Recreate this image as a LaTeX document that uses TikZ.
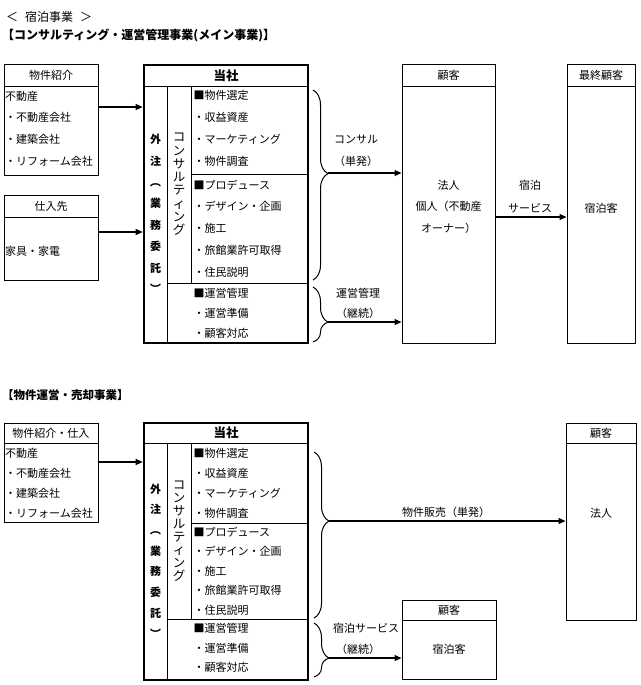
\documentclass[tikz,border=0pt]{standalone}
\usepackage{fontspec}
\usepackage{graphicx}
\setmainfont{Noto Sans CJK JP}
\usetikzlibrary{arrows.meta, decorations.pathreplacing}

\newcommand{\vopen}{\rotatebox[origin=c]{-90}{（}}
\newcommand{\vclose}{\rotatebox[origin=c]{-90}{）}}

\tikzset{
  every node/.style={font=\fontsize{11pt}{12pt}\selectfont},
  box/.style={draw=black, line width=1pt, inner sep=0pt},
  mainbox/.style={draw=black, line width=2.6pt, inner sep=0pt},
  headsep/.style={line width=1.8pt},
  itemtxt/.style={font=\fontsize{11pt}{#1}\selectfont, align=left, inner sep=0pt},
  outtxt/.style={align=center, font=\bfseries\fontsize{11pt}{#1}\selectfont},
  constxt/.style={align=center, font=\fontsize{12.5pt}{#1}\selectfont},
  arr/.style={line width=1.2pt, -{Triangle[length=7pt,width=6pt]}},
  brc/.style={line width=1pt, decorate, decoration={brace, amplitude=15pt, aspect=#1}},
}

\begin{document}
\begin{tikzpicture}[x=1pt, y=1pt]
\useasboundingbox (0,0) rectangle (640,-685);

% titles
\node[anchor=west, inner sep=0pt, font=\fontsize{12pt}{14pt}\selectfont] (titleA) at (6,-17) {＜\hspace{7pt}宿泊事業\hspace{7pt}＞};
\node[anchor=west, inner sep=0pt, font=\bfseries\fontsize{12pt}{14pt}\selectfont] (subA) at (2,-35) {【コンサルティング・運営管理事業(メイン事業)】};

%%% upper chart
\node[box, minimum width=94pt, minimum height=21pt] (srcHeadA) at (51,-75.5) {物件紹介};
\node[box, minimum width=94pt, minimum height=89pt] (srcBodyA) at (51,-130.5) {};
\draw[headsep] (srcHeadA.south west) -- (srcHeadA.south east);
\node[itemtxt=21.7pt, anchor=west] (srcTxtA) at (5,-128.5) {不動産\\・不動産会社\\・建築会社\\・リフォーム会社};

\node[box, minimum width=94pt, minimum height=22pt] (supHeadA) at (51,-206) {仕入先};
\node[box, minimum width=94pt, minimum height=63pt] (supBodyA) at (51,-248.5) {};
\draw[headsep] (supHeadA.south west) -- (supHeadA.south east);
\node[itemtxt=12pt, anchor=west] (supTxtA) at (5,-251) {家具・家電};

% 当社
\node[box, minimum width=23pt, minimum height=257pt, outtxt=21.4pt] (outA) at (155.5,-214.5) {外\\注\\\vopen\\業\\務\\委\\託\\\vclose};
\node[box, minimum width=24pt, minimum height=197pt, constxt=13.25pt] (consA) at (179,-184.5) {コ\\ン\\サ\\ル\\テ\\ィ\\ン\\グ};
\node[box, minimum width=117pt, minimum height=88pt] (selA) at (249.5,-130) {};
\node[box, minimum width=117pt, minimum height=109pt] (prodA) at (249.5,-228.5) {};
\node[box, minimum width=141pt, minimum height=60pt] (opA) at (237.5,-313) {};
\node[itemtxt=22pt, anchor=west] (selTxtA) at ([xshift=3pt, yshift=1.5pt]selA.west) {■物件選定\\・収益資産\\・マーケティング\\・物件調査};
\node[itemtxt=21.8pt, anchor=west] (prodTxtA) at ([xshift=3pt]prodA.west) {■プロデュース\\・デザイン・企画\\・施工\\・旅館業許可取得\\・住民説明};
\node[itemtxt=20pt, anchor=west] (opTxtA) at ([xshift=27pt]opA.west) {■運営管理\\・運営準備\\・顧客対応};
\node[draw=black, line width=1pt, inner sep=0pt, minimum width=164pt, minimum height=21pt, font=\bfseries\fontsize{12.5pt}{14pt}\selectfont] (mainHeadA) at (226,-75.5) {当社};
\draw[headsep] (mainHeadA.south west) -- (mainHeadA.south east);
\node[mainbox, minimum width=164pt, minimum height=278pt] (mainA) at (226,-204) {};

\draw[arr] ([yshift=23.5pt]srcBodyA.east) -- ([yshift=23.5pt]srcBodyA.east -| mainA.west);
\draw[arr] ([yshift=16.5pt]supBodyA.east) -- ([yshift=16.5pt]supBodyA.east -| mainA.west);

% customers
\node[box, minimum width=93pt, minimum height=21pt] (custHeadA) at (448.5,-75.5) {顧客};
\node[box, minimum width=93pt, minimum height=257pt] (custBodyA) at (448.5,-214.5) {};
\draw[headsep] (custHeadA.south west) -- (custHeadA.south east);
\node[itemtxt=21.5pt, align=center] (custTxtA) at (448.5,-206.5) {法人\\個人（不動産\\オーナー）};

\node[box, minimum width=68pt, minimum height=21pt] (finHeadA) at (601,-75.5) {最終顧客};
\node[box, minimum width=68pt, minimum height=257pt] (finBodyA) at (601,-214.5) {};
\draw[headsep] (finHeadA.south west) -- (finHeadA.south east);
\node (finTxtA) at (601,-208) {宿泊客};

% braces and flows
\draw[brc=0.44] (313,-90) -- (313,-280);
\draw[brc=0.64] (313,-287) -- (313,-342);
\coordinate (tipA) at (328,-173);
\coordinate (tipA2) at (328,-322);
\draw[arr] (tipA) -- (tipA -| custBodyA.west);
\draw[arr] (tipA2) -- (tipA2 -| custBodyA.west);
\draw[arr] ([yshift=-2.5pt]custBodyA.east) -- ([yshift=-2.5pt]custBodyA.east -| finBodyA.west);
\node[itemtxt=22pt, align=center] (consLblA) at (356,-151) {コンサル\\（単発）};
\node[itemtxt=20pt, align=center] (opLblA) at (358,-303) {運営管理\\（継続）};
\node[itemtxt=23pt, align=center] (stayLblA) at (530,-196.5) {宿泊\\サービス};

%%% lower chart
\node[anchor=west, inner sep=0pt, font=\bfseries\fontsize{11.5pt}{14pt}\selectfont] (titleB) at (2,-395) {【物件運営・売却事業】};

\node[box, minimum width=94pt, minimum height=20pt] (srcHeadB) at (51,-433) {物件紹介・仕入};
\node[box, minimum width=94pt, minimum height=79pt] (srcBodyB) at (51,-482.5) {};
\draw[headsep] (srcHeadB.south west) -- (srcHeadB.south east);
\node[itemtxt=20pt, anchor=west] (srcTxtB) at (5,-483) {不動産\\・不動産会社\\・建築会社\\・リフォーム会社};

% 当社
\node[box, minimum width=23pt, minimum height=237pt, outtxt=20.7pt] (outB) at (155.5,-561.5) {外\\注\\\vopen\\業\\務\\委\\託\\\vclose};
\node[box, minimum width=24pt, minimum height=176pt, constxt=13pt] (consB) at (179,-531) {コ\\ン\\サ\\ル\\テ\\ィ\\ン\\グ};
\node[box, minimum width=117pt, minimum height=80pt] (selB) at (249.5,-483) {};
\node[box, minimum width=117pt, minimum height=96pt] (prodB) at (249.5,-571) {};
\node[box, minimum width=141pt, minimum height=61pt] (opB) at (237.5,-649.5) {};
\node[itemtxt=20pt, anchor=west] (selTxtB) at ([xshift=3pt]selB.west) {■物件選定\\・収益資産\\・マーケティング\\・物件調査};
\node[itemtxt=19.5pt, anchor=west] (prodTxtB) at ([xshift=3pt]prodB.west) {■プロデュース\\・デザイン・企画\\・施工\\・旅館業許可取得\\・住民説明};
\node[itemtxt=19.5pt, anchor=west] (opTxtB) at ([xshift=27pt, yshift=1.5pt]opB.west) {■運営管理\\・運営準備\\・顧客対応};
\node[draw=black, line width=1pt, inner sep=0pt, minimum width=164pt, minimum height=20pt, font=\bfseries\fontsize{12.5pt}{14pt}\selectfont] (mainHeadB) at (226,-433) {当社};
\draw[headsep] (mainHeadB.south west) -- (mainHeadB.south east);
\node[mainbox, minimum width=164pt, minimum height=257pt] (mainB) at (226,-551.5) {};

\draw[arr] ([yshift=20.5pt]srcBodyB.east) -- ([yshift=20.5pt]srcBodyB.east -| mainB.west);

% customers
\node[box, minimum width=70pt, minimum height=20pt] (custHeadB) at (601,-433) {顧客};
\node[box, minimum width=70pt, minimum height=177pt] (custBodyB) at (601,-531.5) {};
\draw[headsep] (custHeadB.south west) -- (custHeadB.south east);
\node (custTxtB) at (601,-513) {法人};

\node[box, minimum width=94pt, minimum height=20pt] (guestHeadB) at (449,-610) {顧客};
\node[box, minimum width=94pt, minimum height=59pt] (guestBodyB) at (449,-649.5) {宿泊客};
\draw[headsep] (guestHeadB.south west) -- (guestHeadB.south east);

% braces and flows
\draw[brc=0.416] (314,-452) -- (314,-618);
\draw[brc=0.65] (314,-623) -- (314,-677);
\coordinate (tipB) at (329,-521);
\coordinate (tipB2) at (329,-658);
\draw[arr] (tipB) -- (tipB -| custBodyB.west);
\draw[arr] (tipB2) -- (tipB2 -| guestBodyB.west);
\node (salesLblB) at (446,-512) {物件販売（単発）};
\node[anchor=west, inner sep=0pt] (stayLblB) at (333,-628) {宿泊サービス};
\node (contLblB) at (358,-649) {（継続）};
\end{tikzpicture}
\end{document}
